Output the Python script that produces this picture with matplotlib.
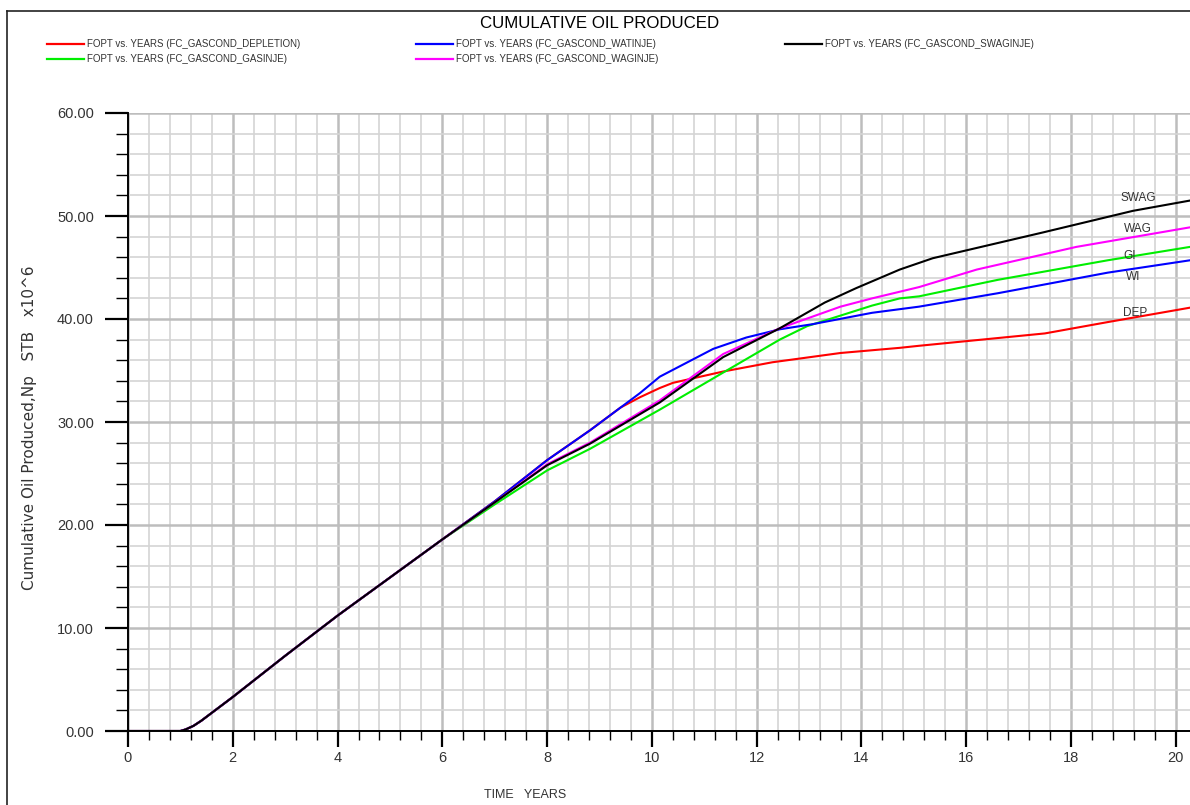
import matplotlib.pyplot as plt
from matplotlib.lines import Line2D
from matplotlib.ticker import MultipleLocator, FormatStrFormatter

plt.rcParams['font.family'] = ['Liberation Sans', 'DejaVu Sans']

# common early part (all cases identical up to ~6 years)
years_early = [0.0, 1.0, 1.1, 1.25, 1.4, 2.0, 3.0, 4.0, 5.0, 6.0]
np_early = [0.0, 0.0, 0.15, 0.5, 1.0, 3.3, 7.3, 11.2, 14.9, 18.6]

yrs_dep = [7.0, 8.0, 8.82, 9.4, 9.77, 10.15, 10.4, 11.36, 12.3, 13.6, 14.73, 15.1, 17.5, 18.7, 20.27]
np_dep = [22.3, 26.3, 29.2, 31.4, 32.4, 33.3, 33.8, 34.9, 35.8, 36.7, 37.2, 37.4, 38.6, 39.7, 41.1]

yrs_wi = [7.0, 8.0, 8.82, 9.77, 10.15, 11.17, 11.8, 12.44, 13.07, 14.2, 15.1, 16.6, 18.7, 20.27]
np_wi = [22.3, 26.3, 29.2, 32.8, 34.4, 37.1, 38.2, 39.0, 39.5, 40.6, 41.2, 42.5, 44.5, 45.7]

yrs_gi = [7.0, 8.0, 8.82, 10.15, 11.36, 12.44, 12.96, 14.2, 14.73, 15.1, 16.6, 18.7, 20.27]
np_gi = [22.0, 25.3, 27.4, 31.2, 34.8, 38.0, 39.3, 41.3, 42.0, 42.2, 43.8, 45.7, 47.0]

yrs_wag = [7.0, 8.0, 8.82, 10.15, 11.36, 12.44, 13.6, 14.2, 15.1, 16.2, 18.1, 20.27]
np_wag = [22.2, 25.9, 28.0, 32.1, 36.6, 39.1, 41.2, 42.0, 43.1, 44.8, 47.0, 48.9]

yrs_swag = [7.0, 8.0, 8.82, 10.15, 11.36, 12.44, 13.3, 13.9, 14.73, 15.36, 17.46, 19.18, 20.27]
np_swag = [22.2, 25.8, 27.9, 31.9, 36.3, 39.1, 41.6, 43.0, 44.8, 45.9, 48.4, 50.5, 51.5]

series = [
    ('FOPT vs. YEARS (FC_GASCOND_DEPLETION)', yrs_dep, np_dep, '#ff0000'),
    ('FOPT vs. YEARS (FC_GASCOND_GASINJE)', yrs_gi, np_gi, '#00ee00'),
    ('FOPT vs. YEARS (FC_GASCOND_WATINJE)', yrs_wi, np_wi, '#0000ff'),
    ('FOPT vs. YEARS (FC_GASCOND_WAGINJE)', yrs_wag, np_wag, '#ff00ff'),
    ('FOPT vs. YEARS (FC_GASCOND_SWAGINJE)', yrs_swag, np_swag, '#000000'),
]

case_labels = ['SWAG', 'WAG', 'GI', 'WI', 'DEP']
label_x = [18.95, 19.0, 19.0, 19.05, 19.0]
label_y = [51.7, 48.7, 46.1, 44.1, 40.6]

fig = plt.figure(figsize=(11.9, 8.05), dpi=100)
ax = fig.add_axes([128 / 1190, 1 - 731 / 805, 1 - 128 / 1190, 618 / 805])

for name, xs, ys, col in series:
    ax.plot(years_early + xs, np_early + ys, color=col, lw=1.5)

for lab, lx, ly in zip(case_labels, label_x, label_y):
    ax.text(lx, ly, lab, fontsize=8.5, color='#333333', va='center', ha='left')

ax.set_xlim(0, 20.27)
ax.set_ylim(0, 60)
ax.xaxis.set_major_locator(MultipleLocator(2))
ax.xaxis.set_minor_locator(MultipleLocator(0.4))
ax.yaxis.set_major_locator(MultipleLocator(10))
ax.yaxis.set_minor_locator(MultipleLocator(2))
ax.yaxis.set_major_formatter(FormatStrFormatter('%.2f'))

ax.grid(which='minor', color='#d4d4d4', lw=1.2)
ax.grid(which='major', color='#bdbdbd', lw=1.8)
ax.set_axisbelow(True)

for s in ['top', 'right']:
    ax.spines[s].set_visible(False)
ax.spines['left'].set_linewidth(1.4)
ax.spines['bottom'].set_linewidth(1.4)

ax.tick_params(axis='y', which='major', length=16.5, width=1.6, pad=8, labelsize=10.5, labelcolor='#333333')
ax.tick_params(axis='y', which='minor', length=8.5, width=1.0)
ax.tick_params(axis='x', which='major', length=11.5, width=1.6, pad=3, labelsize=10.5, labelcolor='#333333')
ax.tick_params(axis='x', which='minor', length=6.5, width=1.0)

fig.text(600 / 1190, 1 - 24 / 805, 'CUMULATIVE OIL PRODUCED', ha='center', va='center', fontsize=12.2)
fig.text(525 / 1190, 1 - 795 / 805, 'TIME   YEARS', ha='center', va='center', fontsize=9, color='#333333')
fig.text(30 / 1190, 1 - 428 / 805, 'Cumulative Oil Produced,Np   STB   x10^6', rotation=90,
         ha='center', va='center', fontsize=11, color='#333333', family='DejaVu Sans')

# legend drawn in figure space (three columns, two rows)
leg_pos = [(47, 44), (47, 59), (416, 44), (416, 59), (785, 44)]
for (name, xs, ys, col), (lx, ly) in zip(series, leg_pos):
    fy = 1 - ly / 805
    fig.add_artist(Line2D([lx / 1190, (lx + 37) / 1190], [fy, fy], color=col, lw=1.6))
    fig.text((lx + 40) / 1190, fy, name, fontsize=7, va='center', ha='left', color='#333333')

# outer frame
fig.add_artist(Line2D([7 / 1190, 7 / 1190], [0, 1 - 11 / 805], color='#222222', lw=1.2))
fig.add_artist(Line2D([7 / 1190, 1], [1 - 11 / 805, 1 - 11 / 805], color='#222222', lw=1.2))

fig.savefig('out.png', dpi=100)
